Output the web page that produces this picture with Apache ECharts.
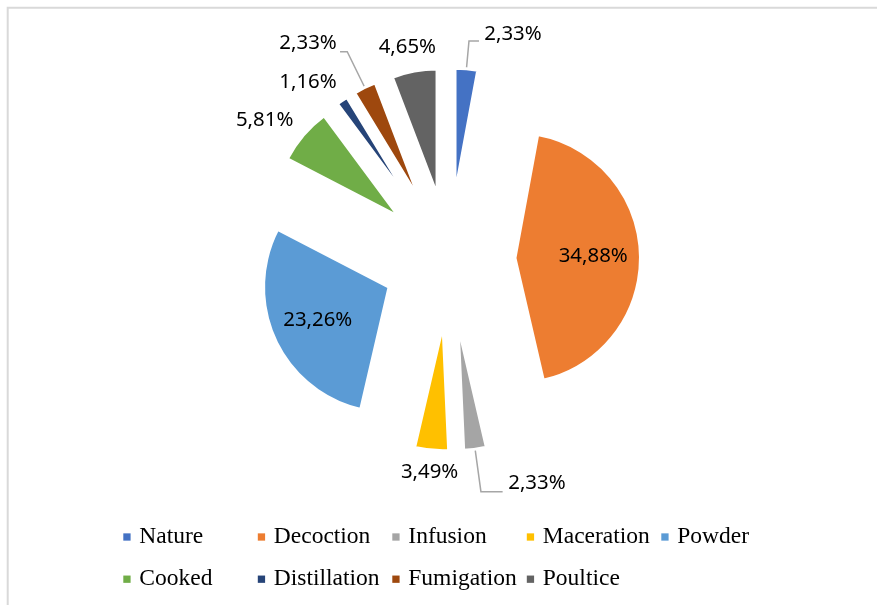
<!DOCTYPE html>
<html>
<head>
<meta charset="utf-8">
<script src="https://cdn.jsdelivr.net/npm/echarts@6/dist/echarts.min.js"></script>
<style>
  html, body { margin: 0; padding: 0; background: #fff; }
  #chart { width: 877px; height: 605px; }
</style>
</head>
<body>
<div id="chart"></div>
<script>
// Preparation methods and their share (%) of the recorded uses
const categories = ['Nature', 'Decoction', 'Infusion', 'Maceration', 'Powder',
                    'Cooked', 'Distillation', 'Fumigation', 'Poultice'];
const shares = [2.33, 34.88, 2.33, 3.49, 23.26, 5.81, 1.16, 2.33, 4.65];
const sliceColors = ['#4472C4', '#ED7D31', '#A5A5A5', '#FFC000', '#5B9BD5',
                     '#70AD47', '#264478', '#9E480E', '#636363'];

// How each slice's label is placed (inside the slice, or outside with/without a leader line);
// raise = how far the text sits above the end of its leader line
const labelPlacement = {
  Nature:       { pos: 'outside', line: true,  len: 27.9, len2: 10,    dist: 5.3, raise: 7 },
  Decoction:    { pos: 'inside',  push: 12.5 },
  Infusion:     { pos: 'outside', line: true,  len: 42.9, len2: 21.7,  dist: 5.6, raise: 9 },
  Maceration:   { pos: 'outside', line: false, len: 22.4, len2: -33.8, dist: 5,   raise: 0 },
  Powder:       { pos: 'inside',  push: 12.8 },
  Cooked:       { pos: 'outside', line: false, len: 23.7, len2: -13.1, dist: 5,   raise: 0 },
  Distillation: { pos: 'outside', line: false, len: 22.7, len2: -12.2, dist: 5,   raise: 0 },
  Fumigation:   { pos: 'outside', line: true,  len: 39.9, len2: 7.2,   dist: 3.3, raise: 8 },
  Poultice:     { pos: 'outside', line: false, len: 24.8, len2: -31.2, dist: 5,   raise: 0 }
};

const labelFont = { fontFamily: 'Noto Sans', fontSize: 20.4, color: '#000' };

// mid-angle of each slice, clockwise from 12 o'clock
const total = shares.reduce((a, b) => a + b, 0);
let acc = 0;
const midAngle = shares.map(v => {
  const m = (acc + v / 2) / total * 2 * Math.PI;
  acc += v;
  return m;
});

const fmt = v => v.toFixed(2).replace('.', ',') + '%';

const pieData = categories.map((name, i) => {
  const p = labelPlacement[name];
  const item = {
    name: name,
    value: shares[i],
    selected: true,
    itemStyle: { color: sliceColors[i] }
  };
  if (p.pos === 'inside') {
    item.label = { position: 'inside', formatter: q => fmt(q.value) };
    item.labelLine = { show: false };
  } else {
    const raise = p.raise;
    item.label = {
      position: 'outside',
      distanceToLabelLine: p.dist,
      // an empty second line lifts the value text above the leader line's end
      formatter: raise > 0
        ? q => '{v|' + fmt(q.value) + '}\n{g|}'
        : q => fmt(q.value),
      rich: {
        v: Object.assign({}, labelFont),
        g: { height: raise * 2, fontSize: 1, lineHeight: raise * 2 }
      }
    };
    item.labelLine = { show: p.line, length: p.len, length2: p.len2 };
  }
  return item;
});

const chart = echarts.init(document.getElementById('chart'), null, { renderer: 'canvas' });

const legendCommon = {
  orient: 'horizontal',
  left: 123.3,
  padding: 0,
  icon: 'rect',
  itemWidth: 7.3,
  itemHeight: 7.3,
  itemGap: 0,
  selectedMode: false,
  itemStyle: { borderWidth: 0 },
  textStyle: {
    fontFamily: 'Liberation Serif',
    fontSize: 23.5,
    color: '#000',
    width: 118.5,
    lineHeight: 26,
    padding: [0, 0, 3, 3.7]
  }
};

chart.setOption({
  animation: false,
  backgroundColor: '#fff',
  graphic: [{
    type: 'polyline',
    silent: true,
    shape: { points: [[7.7, 605], [7.7, 7.7], [877, 7.7]] },
    style: { fill: 'none', stroke: '#d9d9d9', lineWidth: 2 }
  }],
  legend: [
    Object.assign({ top: 522.5, data: categories.slice(0, 5) }, legendCommon),
    Object.assign({ top: 564.7, data: categories.slice(5) }, legendCommon)
  ],
  series: [{
    type: 'pie',
    center: [449, 259.5],
    radius: 125.5,
    startAngle: 90,
    clockwise: true,
    selectedMode: 'multiple',
    selectedOffset: 66,
    avoidLabelOverlap: false,
    emphasis: { disabled: true },
    itemStyle: { borderColor: '#fff', borderWidth: 3 },
    label: Object.assign({ show: true }, labelFont),
    labelLine: {
      lineStyle: { color: '#a6a6a6', width: 1.5 }
    },
    labelLayout: function (params) {
      const p = labelPlacement[categories[params.dataIndex]];
      if (p && p.pos === 'inside') {
        const a = midAngle[params.dataIndex];
        return { dx: p.push * Math.sin(a), dy: -p.push * Math.cos(a) };
      }
      return {};
    },
    data: pieData
  }]
});
</script>
</body>
</html>
